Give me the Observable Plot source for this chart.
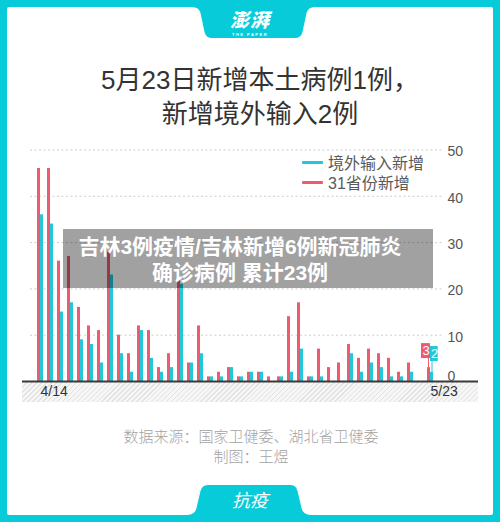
<!DOCTYPE html>
<html>
<head>
<meta charset="utf-8">
<script src="https://cdn.jsdelivr.net/npm/d3@7"></script>
<script src="https://cdn.jsdelivr.net/npm/@observablehq/plot@0.6"></script>
<style>
  body { margin: 0; background: #fff; }
  #page { position: relative; width: 500px; height: 522px; background: #08CBDA; overflow: hidden;
          font-family: "Liberation Sans", "Noto Sans CJK SC", sans-serif; }
  #inner { position: absolute; left: 7px; top: 7px; width: 486px; height: 508px; background: #fff; border-radius: 2px; }
  .abs { position: absolute; }
  #deco { position: absolute; left: 0; top: 0; }
  #brand { left: 200px; width: 100px; top: 11px; text-align: center; color: #fff;
           font-family: "Liberation Sans", "Noto Sans CJK SC"; font-weight: 900; font-style: italic; font-size: 19px; line-height: 20px; letter-spacing: 1px; }
  #brandEn { left: 200px; width: 100px; top: 33px; text-align: center; color: #fff; font-size: 4px; line-height: 4px; letter-spacing: 1.5px; font-weight: bold; }
  #title { left: 10px; width: 500px; top: 63px; text-align: center; color: #333; font-size: 26px; line-height: 34px; }
  #legend { left: 302px; top: 152px; color: #5a5a5a; font-size: 16px; }
  .lg { display: flex; align-items: center; height: 20px; }
  .lg span.sw { display: inline-block; width: 21px; height: 3px; margin-right: 5px; border-radius: 1px; }
  #hatch { left: 22px; top: 382px; width: 456px; height: 20px;
           background: repeating-linear-gradient(135deg, #e2e2e2 0 1px, #f6f6f6 1px 3.5px); }
  #chart { left: 0; top: 130px; }
  #overlay { left: 63px; top: 229px; width: 370px; height: 59px; background: rgba(0,0,0,0.37); }
  .ovl { left: 63px; width: 354px; text-align: center; color: #fff; height: 26px;
         font-family: "Liberation Sans", "Noto Sans CJK SC"; font-weight: bold; font-size: 21px; line-height: 26px; }
  #source { left: 0; width: 502px; top: 427px; text-align: center; color: #a3a3a3; font-size: 15px; line-height: 20px;
            font-family: "Liberation Sans", "Noto Sans CJK SC"; font-weight: 300; }
  #bottomTab { left: 200px; width: 100px; top: 488px; text-align: center; color: #fff; font-family: "Liberation Sans", "Noto Sans CJK SC";
               font-style: italic; font-size: 18px; line-height: 26px; }
</style>
</head>
<body>
<div id="page">
  <div id="inner"></div>
  <svg id="deco" width="500" height="522">
    <path d="M192,7 Q199,7 200.5,13 L204.5,32 Q206,38 212,38 L295,38 Q301,38 302.5,32 L306.5,13 Q308,7 315,7 Z" fill="#08CBDA"/>
    <path d="M187,515 Q195,515 196.5,508 L200.5,491 Q202,485 208,485 L291,485 Q296,485 297.5,491 L301.5,508 Q303,515 311,515 Z" fill="#08CBDA"/>
  </svg>
  <div id="brand" class="abs">澎湃</div>
  <div id="brandEn" class="abs">THE PAPER</div>
  <div id="title" class="abs">5月23日新增本土病例1例，<br>新增境外输入2例</div>
  <div id="hatch" class="abs"></div>
  <div id="chart" class="abs"></div>
  <div id="legend" class="abs"></div>
  <div id="overlay" class="abs"></div>
  <div class="abs ovl" style="top:234px">吉林3例疫情/吉林新增6例新冠肺炎</div>
  <div class="abs ovl" style="top:260px">确诊病例 累计23例</div>
  <div id="source" class="abs">数据来源：国家卫健委、湖北省卫健委<br>制图：王煜</div>
  <div id="bottomTab" class="abs">抗疫</div>
</div>
<script>
// ---- data ----
const dates = ["4/14","4/15","4/16","4/17","4/18","4/19","4/20","4/21","4/22","4/23",
               "4/24","4/25","4/26","4/27","4/28","4/29","4/30","5/1","5/2","5/3",
               "5/4","5/5","5/6","5/7","5/8","5/9","5/10","5/11","5/12","5/13",
               "5/14","5/15","5/16","5/17","5/18","5/19","5/20","5/21","5/22","5/23"];
const provincesNew = [46,46,26,27,16,12,11,28,10,6,
                      12,11,3,6,22,4,12,1,2,3,
                      1,2,2,1,1,14,17,1,7,3,
                      4,8,5,7,6,5,2,4,0,3];
const importedNew  = [36,34,15,17,9,8,4,23,6,2,
                      11,5,2,3,21,4,6,1,1,3,
                      1,2,2,0,1,2,7,1,1,0,
                      0,6,2,4,3,1,1,2,0,2];
const seriesNames = ["境外输入新增", "31省份新增"];
const yTicks = [0, 10, 20, 30, 40, 50];
const xTickLabels = ["4/14", "5/23"];
const lastDate = "5/23";

const RED = "#EE5A70";
const CYAN = "#22C8D8";

const rows = dates.map((d, i) => ({date: d, prov: provincesNew[i], imp: importedNew[i]}));
const lastRow = rows.find(r => r.date === lastDate);

// legend
const legend = document.getElementById("legend");
[[seriesNames[0], CYAN], [seriesNames[1], RED]].forEach(([name, c]) => {
  const row = document.createElement("div");
  row.className = "lg";
  row.innerHTML = `<span class="sw" style="background:${c}"></span><span>${name}</span>`;
  legend.appendChild(row);
});

const chart = Plot.plot({
  width: 500,
  height: 280,
  marginLeft: 22,
  marginRight: 22,
  marginTop: 19.5,
  marginBottom: 29,
  style: {background: "transparent", overflow: "visible", fontFamily: "Liberation Sans, Noto Sans CJK SC, sans-serif"},
  x: {type: "band", domain: dates, range: [31.3, 438], paddingInner: 0.407, paddingOuter: 0.3, axis: null},
  y: {domain: [0, 50], axis: null},
  marks: [
    Plot.ruleY(yTicks.filter(t => t > 0), {stroke: "#cdcdcd", strokeDasharray: "2,2.5", insetLeft: 8, insetRight: 35}),
    Plot.barY(rows, {x: "date", y: "prov", fill: RED, insetRight: 3}),
    Plot.barY(rows, {x: "date", y: "imp", fill: CYAN, insetLeft: 3}),
    Plot.ruleY([0], {stroke: "#3a3a3a", strokeWidth: 2}),
    Plot.text(yTicks.filter(t => t > 0), {y: d => d, text: d => String(d), frameAnchor: "right", dx: -31, dy: 2,
      textAnchor: "start", fill: "#555", fontSize: 14}),
    Plot.text(yTicks.filter(t => t === 0), {y: d => d, text: d => String(d), frameAnchor: "right", dx: -31, dy: -5,
      textAnchor: "start", fill: "#555", fontSize: 14}),
    Plot.text(xTickLabels, {x: d => d, text: d => d, frameAnchor: "bottom", dy: 14, textAnchor: "start",
      fill: "#333", fontSize: 14}),
    // last-day value labels
    Plot.ruleX([lastRow], {x: "date", y1: "prov", y2: "prov", insetTop: -9, dx: -2, stroke: RED, strokeWidth: 1}),
    Plot.ruleX([lastRow], {x: "date", y1: "imp", y2: "imp", insetTop: -11, dx: 1.5, stroke: CYAN, strokeWidth: 1}),
    Plot.barY([lastRow], {x: "date", y1: "prov", y2: "prov", insetTop: -24, insetBottom: 9, insetLeft: -6, insetRight: 3, fill: RED}),
    Plot.barY([lastRow], {x: "date", y1: "imp", y2: "imp", insetTop: -25.7, insetBottom: 10.7, insetLeft: 3, insetRight: -4.7, fill: CYAN}),
    Plot.text([lastRow], {x: "date", y: "prov", text: d => String(d.prov), dx: -4.5, dy: -16.6, fill: "#fff", fontSize: 13}),
    Plot.text([lastRow], {x: "date", y: "imp", text: d => String(d.imp), dx: 4, dy: -18.2, fill: "#fff", fontSize: 13})
  ]
});
document.getElementById("chart").appendChild(chart);
</script>
</body>
</html>
